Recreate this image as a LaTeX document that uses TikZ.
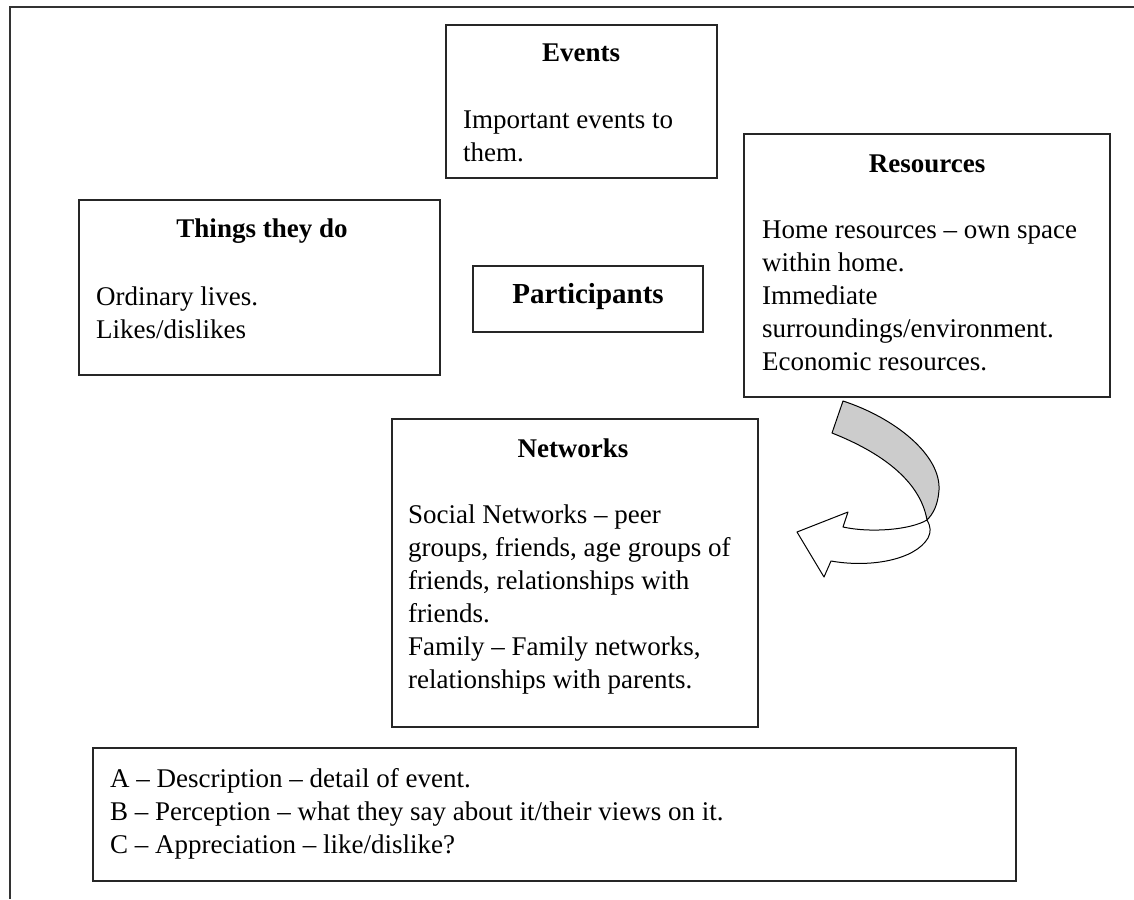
\documentclass[tikz,border=0pt]{standalone}
\usepackage{fontspec}
\setmainfont{Liberation Serif}
\newcommand\textlines[1]{\vtop{\baselineskip=33pt\lineskiplimit=-100pt\halign{##\hfil\cr#1\crcr}}}
\begin{document}
\begin{tikzpicture}[x=1pt,y=-1pt,
  box/.style={draw=black!85,line width=1.3pt,inner sep=0pt},
  title/.style={anchor=base,inner sep=0pt,font=\fontsize{27}{33}\selectfont\bfseries},
  body/.style={anchor=base west,inner sep=0pt,font=\fontsize{27}{33}\selectfont}]
\useasboundingbox (0,0) rectangle (1134,899);
% page frame (top and left edges)
\draw[line width=1.6pt,black!80] (1134,7) -- (10,7) -- (10,899);

% boxes
\draw[box] (446,25) rectangle (717,178) node[pos=0.5] (events) {};
\draw[box] (79,200) rectangle (440,375) node[pos=0.5] (things) {};
\draw[box] (473,266) rectangle (703,332) node[pos=0.5] (part) {};
\draw[box] (744,134) rectangle (1110,397) node[pos=0.5] (res) {};
\draw[box] (392,419) rectangle (758,727) node[pos=0.5] (net) {};
\draw[box] (93,748) rectangle (1016,881) node[pos=0.5] (abc) {};

% titles
\node[title] (eventsT) at (581,62) {Events};
\node[title] (thingsT) at (262,237) {Things they do};
\node[title,font=\fontsize{29}{33}\selectfont\bfseries] (partT) at (588,303) {Participants};
\node[title] (resT) at (927,172) {Resources};
\node[title] (netT) at (573,457) {Networks};

% body texts
\node[body] (eventsB) at (463,128) {\textlines{Important events to\cr them.}};
\node[body] (thingsB) at (96,305) {\textlines{Ordinary lives.\cr Likes/dislikes}};
\node[body] (resB) at (762,238) {\textlines{Home resources – own space\cr within home.\cr Immediate\cr surroundings/environment.\cr Economic resources.}};
\node[body] (netB) at (408,523) {\textlines{Social Networks – peer\cr groups, friends, age groups of\cr friends, relationships with\cr friends.\cr Family – Family networks,\cr relationships with parents.}};
\node[body] (abcB) at (110,787) {\textlines{A – Description – detail of event.\cr B – Perception – what they say about it/their views on it.\cr C – Appreciation – like/dislike?}};

% curved twisted arrow from Resources towards Networks
\draw[line width=1pt,fill=white,line join=round]
  (927,520) .. controls (931,527) and (931,532) .. (928,538)
  .. controls (915,560) and (870,568) .. (831,561)
  -- (824,577) -- (797,532) -- (848,512) -- (843,527)
  .. controls (870,533) and (910,530) .. (927,520) -- cycle;
\draw[line width=1pt,fill=black!20,line join=round]
  (843,401) .. controls (895,418) and (941,455) .. (939,490)
  .. controls (938,505) and (933,514) .. (927,520)
  .. controls (920,480) and (880,452) .. (832,433) -- cycle;
\end{tikzpicture}
\end{document}
